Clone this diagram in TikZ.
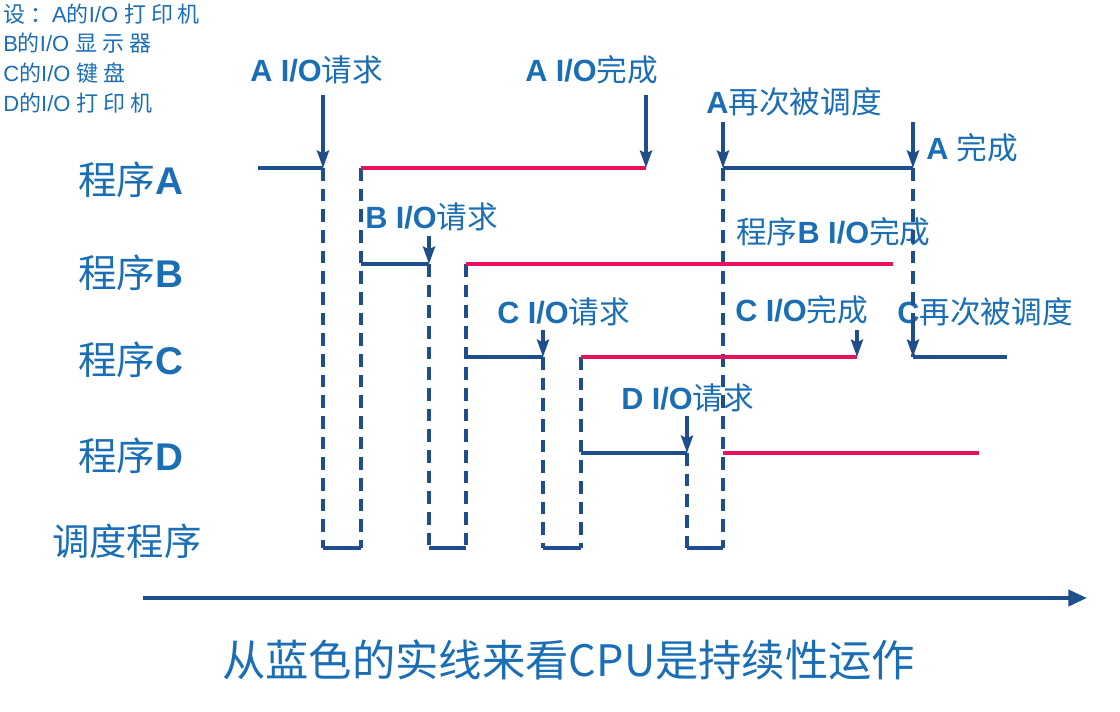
\documentclass[tikz,border=0pt]{standalone}
\usepackage{fontspec}
\setmainfont{Liberation Sans}
\newfontfamily\cjk{Noto Sans CJK SC}
\newfontfamily\cjkls{Noto Sans CJK SC}[LetterSpace=22]
\usetikzlibrary{arrows.meta}
\definecolor{lineblue}{HTML}{1F4E8C}
\definecolor{txtblue}{HTML}{1A6EB5}
\definecolor{waitpink}{HTML}{E8125C}
\newcommand{\lab}[2]{{\bfseries #1}{\cjk #2}}
\newcommand{\nc}[1]{{\cjkls #1}}
\begin{document}
\begin{tikzpicture}[x=0.75pt,y=-0.75pt,
  run/.style={lineblue, line width=2.8pt},
  wait/.style={waitpink, line width=2.8pt},
  sched/.style={lineblue, line width=2.8pt, dash pattern=on 9.5pt off 6pt},
  evt/.style={lineblue, line width=2.6pt, -{Stealth[length=13pt,width=9pt,inset=2pt]}},
  lbl/.style={txtblue, font=\fontsize{23}{26}\selectfont, inner sep=0, anchor=west},
  rowlbl/.style={txtblue, font=\fontsize{29}{33}\selectfont, inner sep=0, anchor=west},
  note/.style={txtblue, font=\fontsize{16.5}{19}\selectfont, inner sep=0, anchor=west}]
\useasboundingbox (0,0) rectangle (1120,711);
% coordinates
\coordinate (A0) at (258,168); \coordinate (A1) at (323,168); \coordinate (A2) at (361,168);
\coordinate (A3) at (646,168); \coordinate (A4) at (723,168); \coordinate (A5) at (913,168);
\coordinate (B1) at (361,264); \coordinate (B2) at (429,264); \coordinate (B3) at (466,264); \coordinate (B4) at (893,264);
\coordinate (C1) at (466,357); \coordinate (C2) at (543,357); \coordinate (C3) at (581,357);
\coordinate (C4) at (857,357); \coordinate (C5) at (913,357); \coordinate (C6) at (1007,357);
\coordinate (D1) at (581,453); \coordinate (D2) at (687,453); \coordinate (D3) at (723,453); \coordinate (D4) at (979,453);
\coordinate (S1) at (323,548); \coordinate (S2) at (361,548); \coordinate (S3) at (429,548); \coordinate (S4) at (466,548);
\coordinate (S5) at (543,548); \coordinate (S6) at (581,548); \coordinate (S7) at (687,548); \coordinate (S8) at (723,548);
\coordinate (tA1) at (323,95); \coordinate (tA3) at (646,95); \coordinate (tA4) at (723,122); \coordinate (tA5) at (913,122);
\coordinate (tB2) at (429,236); \coordinate (tC2) at (543,330); \coordinate (tC4) at (857,330);
\coordinate (tC5) at (913,322); \coordinate (tD2) at (687,416);
\coordinate (ax0) at (143,598); \coordinate (ax1) at (1087,598);
% top-left notes
\node[note] (n1) at (3,14) {\nc{设：}A\nc{的}I/O \nc{打印机}};
\node[note] (n2) at (3,43) {B\nc{的}I/O \nc{显示器}};
\node[note] (n3) at (3,73) {C\nc{的}I/O \nc{键盘}};
\node[note] (n4) at (3,103) {D\nc{的}I/O \nc{打印机}};
% row labels
\node[rowlbl] (rA) at (78,180) {{\cjk 程序}\textbf{A}};
\node[rowlbl] (rB) at (78,273) {{\cjk 程序}\textbf{B}};
\node[rowlbl] (rC) at (78,360) {{\cjk 程序}\textbf{C}};
\node[rowlbl] (rD) at (78,456) {{\cjk 程序}\textbf{D}};
\node[rowlbl, font=\fontsize{28}{32}\selectfont] (rS) at (52,541) {\cjk 调度程序};
% event labels
\node[lbl] (lA1) at (250,70) {\lab{A I/O}{请求}};
\node[lbl] (lA3) at (525,70) {\lab{A I/O}{完成}};
\node[lbl] (lA4) at (706,102) {\lab{A}{再次被调度}};
\node[lbl] (lA5) at (926,148) {\lab{A }{完成}};
\node[lbl] (lB2) at (365,217) {\lab{B I/O}{请求}};
\node[lbl] (lB4) at (736,232) {{\cjk 程序}\lab{B I/O}{完成}};
\node[lbl] (lC2) at (497,312) {\lab{C I/O}{请求}};
\node[lbl] (lC4) at (735,310) {\lab{C I/O}{完成}};
\node[lbl] (lC5) at (897,312) {\lab{C}{再次被调度}};
\node[lbl] (lD2) at (621,398) {\lab{D I/O}{请求}};
% scheduler dashed verticals
\draw[sched] (A1) -- (S1);
\draw[sched] (A2) -- (S2);
\draw[sched] (B2) -- (S3);
\draw[sched] (B3) -- (S4);
\draw[sched] (C2) -- (S5);
\draw[sched] (C3) -- (S6);
\draw[sched] (D2) -- (S7);
\draw[sched] (A4) -- (S8);
\draw[sched] (A5) -- (C5);
\draw[run] (S1) -- (S2);
\draw[run] (S3) -- (S4);
\draw[run] (S5) -- (S6);
\draw[run] (S7) -- (S8);
% running (blue) and waiting (pink)
\draw[run] (A0) -- (A1);
\draw[wait] (A2) -- (A3);
\draw[run] (A4) -- (A5);
\draw[run] (B1) -- (B2);
\draw[wait] (B3) -- (B4);
\draw[run] (C1) -- (C2);
\draw[wait] (C3) -- (C4);
\draw[run] (C5) -- (C6);
\draw[run] (D1) -- (D2);
\draw[wait] (D3) -- (D4);
% event arrows
\draw[evt] (tA1) -- (A1);
\draw[evt] (tA3) -- (A3);
\draw[evt] (tA4) -- (A4);
\draw[evt] (tA5) -- (A5);
\draw[evt] (tB2) -- (B2);
\draw[evt] (tC2) -- (C2);
\draw[evt] (tC4) -- (C4);
\draw[evt] (tC5) -- (C5);
\draw[evt] (tD2) -- (D2);
% time axis
\draw[lineblue, line width=3pt, -{Triangle[length=14pt,width=12pt]}] (ax0) -- (ax1);
\node[txtblue, font=\fontsize{32.5}{38}\selectfont\cjk, inner sep=0, anchor=west] (cap) at (222,660) {从蓝色的实线来看CPU是持续性运作};
\end{tikzpicture}
\end{document}
